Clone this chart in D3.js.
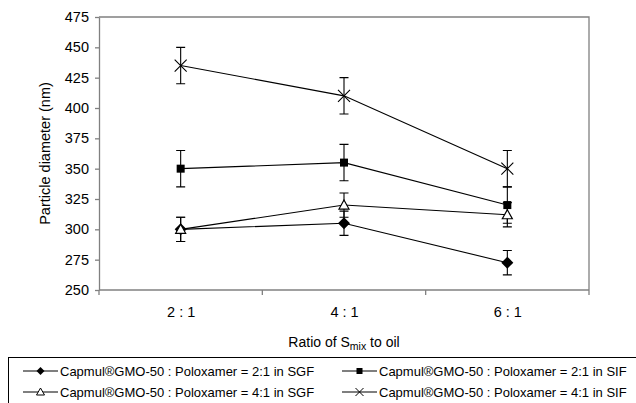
<!DOCTYPE html>
<html>
<head>
<meta charset="utf-8">
<script src="https://cdn.jsdelivr.net/npm/d3@7"></script>
<style>
  body { margin: 0; background: #fff; }
  svg { font-family: "Liberation Sans", Arial, sans-serif; }
</style>
</head>
<body>
<svg id="chart" width="636" height="403"></svg>
<script>
var categories = ["2 : 1", "4 : 1", "6 : 1"];
var yTicks = [250, 275, 300, 325, 350, 375, 400, 425, 450, 475];

var sgf21 = [300, 305, 272.5];
var sgf21Err = [10, 10, 10];
var sif21 = [350, 355, 320];
var sif21Err = [15, 15, 15];
var sgf41 = [300, 320, 312];
var sgf41Err = [10, 10, 10];
var sif41 = [435, 410, 350];
var sif41Err = [15, 15, 15];

var seriesNames = [
  "Capmul\u00AEGMO-50 : Poloxamer = 2:1 in SGF",
  "Capmul\u00AEGMO-50 : Poloxamer = 2:1 in SIF",
  "Capmul\u00AEGMO-50 : Poloxamer = 4:1 in SGF",
  "Capmul\u00AEGMO-50 : Poloxamer = 4:1 in SIF"
];

var series = [
  {name: seriesNames[0], values: sgf21, err: sgf21Err, marker: "diamond"},
  {name: seriesNames[1], values: sif21, err: sif21Err, marker: "square"},
  {name: seriesNames[2], values: sgf41, err: sgf41Err, marker: "triangle"},
  {name: seriesNames[3], values: sif41, err: sif41Err, marker: "cross"}
];

var plot = {left: 99, right: 589, top: 17, bottom: 290};
var fontFam = "Liberation Sans, Arial, sans-serif";

var svg = d3.select("svg#chart");

var x = d3.scalePoint()
    .domain(categories)
    .range([plot.left, plot.right])
    .padding(0.5);

var xBand = d3.scaleBand()
    .domain(categories)
    .range([plot.left, plot.right]);

var y = d3.scaleLinear()
    .domain([250, 475])
    .range([plot.bottom, plot.top]);

var axisColor = "#808080";

// frame top and right
svg.append("path")
   .attr("d", "M" + plot.left + "," + plot.top + "H" + plot.right + "V" + plot.bottom)
   .attr("fill", "none")
   .attr("stroke", axisColor)
   .attr("stroke-width", 1.3);

// y axis
var yAxis = svg.append("g")
   .attr("transform", "translate(" + plot.left + ",0)")
   .call(d3.axisLeft(y).tickValues(yTicks).tickSize(4).tickPadding(6).tickSizeOuter(0));
yAxis.select(".domain").attr("stroke", axisColor).attr("stroke-width", 1.3);
yAxis.selectAll(".tick line").attr("stroke", axisColor).attr("stroke-width", 1.3);
yAxis.selectAll(".tick text").attr("font-size", "14.5px").attr("fill", "#000")
     .attr("font-family", fontFam);

// x axis
var xAxis = svg.append("g")
   .attr("transform", "translate(0," + plot.bottom + ")")
   .call(d3.axisBottom(x).tickSize(0).tickPadding(17).tickSizeOuter(0));
xAxis.select(".domain").attr("stroke", axisColor).attr("stroke-width", 1.3)
     .attr("d", "M" + plot.left + ",0H" + plot.right);
xAxis.selectAll(".tick text").attr("font-size", "14.5px").attr("fill", "#000")
     .attr("font-family", fontFam);

var xEdges = categories.map(function(c) { return xBand(c); }).concat([plot.right]);
svg.append("g").selectAll("line")
   .data(xEdges)
   .enter().append("line")
   .attr("x1", function(d) { return d; })
   .attr("x2", function(d) { return d; })
   .attr("y1", plot.bottom)
   .attr("y2", plot.bottom + 5)
   .attr("stroke", axisColor)
   .attr("stroke-width", 1.3);

// axis titles
svg.append("text")
   .attr("transform", "translate(50," + ((plot.top + plot.bottom) / 2) + ") rotate(-90)")
   .attr("text-anchor", "middle")
   .attr("font-size", "14.5px")
   .text("Particle diameter (nm)");

var xt = svg.append("text")
   .attr("x", (plot.left + plot.right) / 2)
   .attr("y", 347)
   .attr("text-anchor", "middle")
   .attr("font-size", "14px");
xt.append("tspan").text("Ratio of S");
xt.append("tspan").attr("font-size", "10.5px").attr("dy", 3).text("mix");
xt.append("tspan").attr("dy", -3).text(" to oil");

function drawMarker(g, type, cx, cy) {
  if (type === "diamond") {
    g.append("path")
     .attr("d", "M" + cx + "," + (cy - 6) + "L" + (cx + 6) + "," + cy + "L" + cx + "," + (cy + 6) + "L" + (cx - 6) + "," + cy + "Z")
     .attr("fill", "#000");
  } else if (type === "square") {
    g.append("rect")
     .attr("x", cx - 4).attr("y", cy - 4)
     .attr("width", 8).attr("height", 8)
     .attr("fill", "#000");
  } else if (type === "triangle") {
    g.append("path")
     .attr("d", "M" + cx + "," + (cy - 5) + "L" + (cx + 5) + "," + (cy + 4) + "L" + (cx - 5) + "," + (cy + 4) + "Z")
     .attr("fill", "#fff").attr("stroke", "#000").attr("stroke-width", 1.2);
  } else {
    g.append("path")
     .attr("d", "M" + (cx - 6) + "," + (cy - 6) + "L" + (cx + 6) + "," + (cy + 6) + "M" + (cx + 6) + "," + (cy - 6) + "L" + (cx - 6) + "," + (cy + 6))
     .attr("stroke", "#000").attr("stroke-width", 1.1);
  }
}

function drawLegendMarker(g, type, cx, cy) {
  if (type === "diamond") {
    g.append("path")
     .attr("d", "M" + cx + "," + (cy - 4) + "L" + (cx + 4) + "," + cy + "L" + cx + "," + (cy + 4) + "L" + (cx - 4) + "," + cy + "Z")
     .attr("fill", "#000");
  } else if (type === "square") {
    g.append("rect")
     .attr("x", cx - 3).attr("y", cy - 3)
     .attr("width", 6).attr("height", 6)
     .attr("fill", "#000");
  } else if (type === "triangle") {
    g.append("path")
     .attr("d", "M" + cx + "," + (cy - 4) + "L" + (cx + 4) + "," + (cy + 3) + "L" + (cx - 4) + "," + (cy + 3) + "Z")
     .attr("fill", "#fff").attr("stroke", "#000").attr("stroke-width", 1);
  } else {
    g.append("path")
     .attr("d", "M" + (cx - 4) + "," + (cy - 4) + "L" + (cx + 4) + "," + (cy + 4) + "M" + (cx + 4) + "," + (cy - 4) + "L" + (cx - 4) + "," + (cy + 4))
     .attr("stroke", "#000").attr("stroke-width", 1);
  }
}

var line = d3.line()
    .x(function(d) { return x(d.cat); })
    .y(function(d) { return y(d.v); });

series.forEach(function(s) {
  var pts = categories.map(function(c, i) { return {cat: c, v: s.values[i], e: s.err[i]}; });
  var g = svg.append("g").attr("class", "scenario");

  g.append("path")
   .attr("d", line(pts))
   .attr("fill", "none")
   .attr("stroke", "#000")
   .attr("stroke-width", 1.1);

  pts.forEach(function(p) {
    var px = x(p.cat);
    var hi = y(p.v + p.e), lo = y(p.v - p.e);
    g.append("path")
     .attr("d", "M" + px + "," + hi + "V" + lo + "M" + (px - 4.5) + "," + hi + "H" + (px + 4.5) + "M" + (px - 4.5) + "," + lo + "H" + (px + 4.5))
     .attr("stroke", "#000")
     .attr("stroke-width", 1.1)
     .attr("fill", "none");
  });

  pts.forEach(function(p) {
    drawMarker(g, s.marker, x(p.cat), y(p.v));
  });
});

// legend
var legend = svg.append("g");
legend.append("rect")
   .attr("x", 8.5).attr("y", 357.5)
   .attr("width", 700).attr("height", 100)
   .attr("fill", "none")
   .attr("stroke", "#000")
   .attr("stroke-width", 1);

var legendPos = [[23, 371], [342, 371], [23, 392], [342, 392]];
series.forEach(function(s, i) {
  var lx = legendPos[i][0], ly = legendPos[i][1];
  var lg = legend.append("g");
  lg.append("line")
    .attr("x1", lx).attr("x2", lx + 35)
    .attr("y1", ly).attr("y2", ly)
    .attr("stroke", "#000").attr("stroke-width", 1.1);
  drawLegendMarker(lg, s.marker, lx + 17.5, ly);
  lg.append("text")
    .attr("x", lx + 37)
    .attr("y", ly + 4.5)
    .attr("font-size", "13px")
    .text(s.name);
});
</script>
</body>
</html>
